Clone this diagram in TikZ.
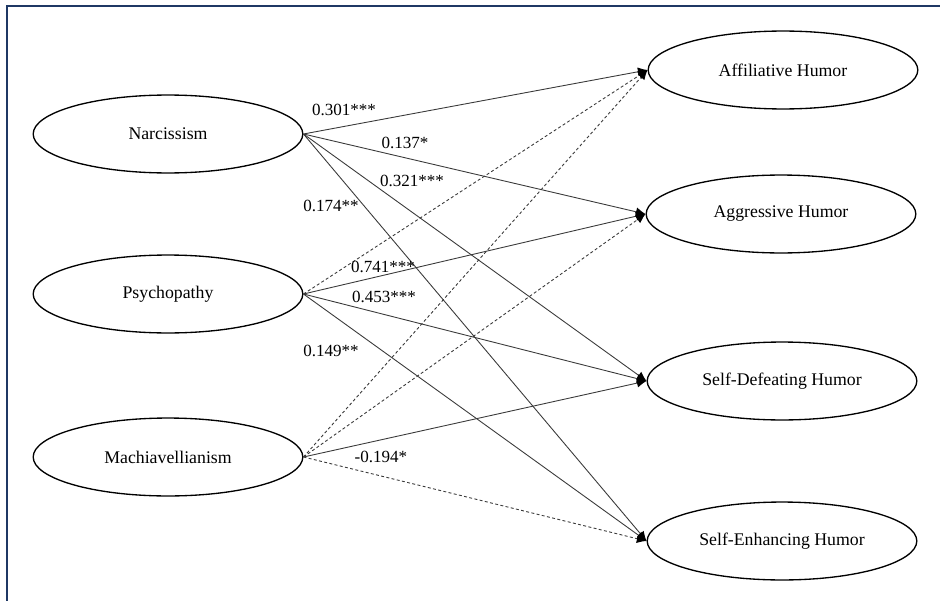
\documentclass[tikz,border=0pt]{standalone}
\usepackage{fontspec}
\setmainfont{Liberation Serif}
\usetikzlibrary{arrows.meta,shapes.geometric}

\definecolor{framenavy}{HTML}{1F3864}
\definecolor{pathgray}{HTML}{3A3A3A}

\begin{document}
\begin{tikzpicture}[x=0.675pt,y=-0.675pt,
		trait/.style={draw,line width=0.9pt,ellipse,minimum width=182pt,minimum height=52.6pt,font=\fontsize{12}{14}\selectfont},
		humor/.style={trait},
		sig/.style={draw=pathgray,line width=0.6pt,-{Latex[length=6.5pt,width=6pt,fill=black,color=black]}},
		nonsig/.style={sig,dash pattern=on 2pt off 1.6pt},
		coef/.style={inner sep=0pt,font=\fontsize{11.5}{13}\selectfont}]

			\useasboundingbox (0,0) rectangle (940,601);
			% frame, cut off at right and bottom
			\draw[framenavy,line width=1.4pt] (940,6) -- (7,6) -- (7,601);

			% dark triad
			\node[trait] (narc) at (168,134) {Narcissism};
			\node[trait] (psych) at (168,294) {Psychopathy};
			\node[trait] (mach) at (168,457) {Machiavellianism};

			% humor styles
			\node[humor] (affil) at (783,70) {Affiliative Humor};
			\node[humor] (aggr) at (781,214) {Aggressive Humor};
			\node[humor] (selfdef) at (782,381) {Self-Defeating Humor};
			\node[humor] (selfenh) at (782,541) {Self-Enhancing Humor};

			\draw[sig] (narc.east) -- (affil.west);
			\draw[sig] (narc.east) -- (aggr.west);
			\draw[sig] (narc.east) -- (selfdef.west);
			\draw[sig] (narc.east) -- (selfenh.west);

			\draw[nonsig] (psych.east) -- (affil.west);
			\draw[sig] (psych.east) -- (aggr.west);
			\draw[sig] (psych.east) -- (selfdef.west);
			\draw[sig] (psych.east) -- (selfenh.west);

			\draw[nonsig] (mach.east) -- (affil.west);
			\draw[nonsig] (mach.east) -- (aggr.west);
			\draw[sig] (mach.east) -- (selfdef.west);
			\draw[nonsig] (mach.east) -- (selfenh.west);

			% path coefficients
			\node[coef] (c1) at (344,110) {0.301***};
			\node[coef] (c2) at (405,143) {0.137*};
			\node[coef] (c3) at (412,181) {0.321***};
			\node[coef] (c4) at (331,206) {0.174**};
			\node[coef] (c5) at (383,267) {0.741***};
			\node[coef] (c6) at (384,297) {0.453***};
			\node[coef] (c7) at (331,351) {0.149**};
			\node[coef] (c8) at (381,457) {-0.194*};

		\end{tikzpicture}
\end{document}
